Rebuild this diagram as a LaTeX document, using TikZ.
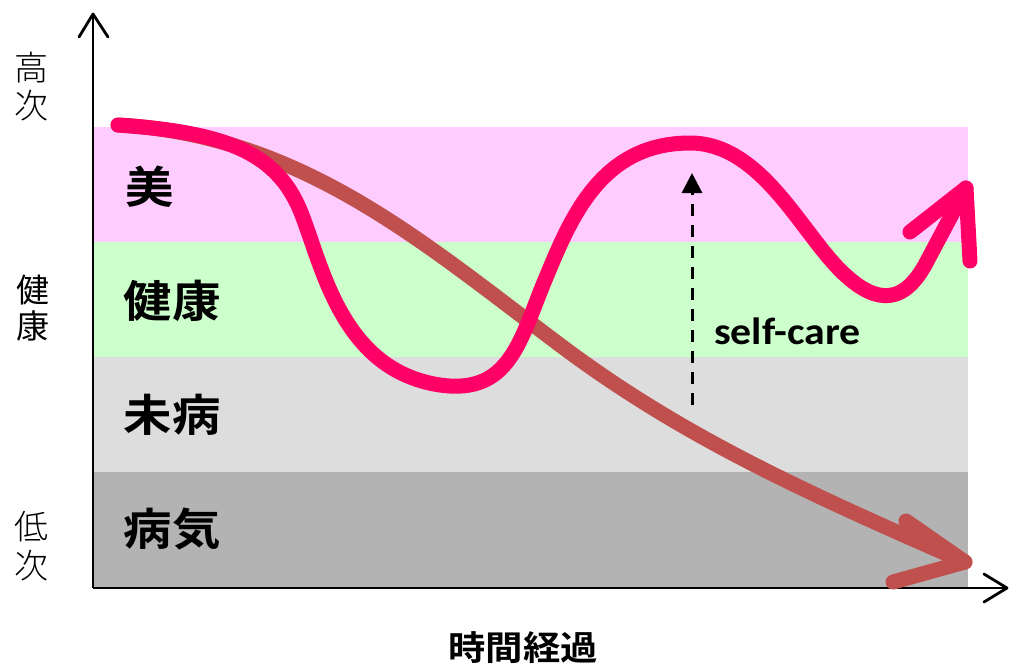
\documentclass[tikz,border=0pt]{standalone}
\usepackage{fontspec}
\newfontfamily\jp{Noto Sans CJK JP}[BoldFont={Noto Sans CJK JP Bold}]
\newfontfamily\jpl{Noto Sans CJK JP Light}
\setsansfont{Carlito}
\usetikzlibrary{arrows.meta}
\definecolor{bandpink}{HTML}{FFCCFF}
\definecolor{bandgreen}{HTML}{CCFFCC}
\definecolor{bandlight}{HTML}{DDDDDD}
\definecolor{banddark}{HTML}{B3B3B3}
\definecolor{curvepink}{HTML}{FF0066}
\definecolor{curvebrown}{HTML}{C0504D}
\tikzset{
  axis/.style={line width=2.5pt, black},
  chev/.style={line width=2.8pt, black, line cap=round, line join=round},
  bandlabel/.style={font=\jp\bfseries\fontsize{44}{44}\selectfont, inner sep=0pt, xscale=1.1},
  sidelabel/.style={font=\jpl\fontsize{34}{34}\selectfont, inner sep=0pt},
  sidebold/.style={font=\jp\fontsize{33}{33}\selectfont, inner sep=0pt},
  curve/.style={line width=15pt, line cap=round, line join=round},
}
\begin{document}
\begin{tikzpicture}[x=1pt,y=-1pt]
\useasboundingbox (0,0) rectangle (1010,665);
% bands
\fill[bandpink] (93,127) rectangle (968,242);
\fill[bandgreen] (93,242) rectangle (968,357);
\fill[bandlight] (93,357) rectangle (968,472);
\fill[banddark] (93,472) rectangle (968,588);
% axes
\coordinate (O) at (93,588);
\coordinate (ytip) at (93,14);
\coordinate (xtip) at (1007,588);
\draw[axis] (O) -- (ytip);
\draw[axis] (O) -- (xtip);
\draw[chev] (79,37) -- (ytip) -- (108,37);
\draw[chev] (984,574) -- (xtip) -- (984,602);
% side labels
\node[sidelabel] (hi1) at (32,68) {高};
\node[sidelabel] (hi2) at (32,106) {次};
\node[sidebold] (he1) at (33,290) {健};
\node[sidebold] (he2) at (33,326) {康};
\node[sidelabel] (lo1) at (32,527) {低};
\node[sidelabel] (lo2) at (32,566) {次};
% band labels
\node[bandlabel] (bi) at (150,187) {美};
\node[bandlabel] (kenko) at (172,301) {健康};
\node[bandlabel] (mibyo) at (172,415) {未病};
\node[bandlabel] (byoki) at (172,529) {病気};
\node[font=\jp\bfseries\fontsize{34}{34}\selectfont, inner sep=0pt, xscale=1.1] (time) at (523,648) {時間経過};
% brown curve
\coordinate (bstart) at (118,125);
\coordinate (btip) at (965,562);
\draw[curve, curvebrown] (bstart) .. controls (300,135) and (420,240) .. (560,345) .. controls (680,435) and (800,490) .. (btip);
\draw[curve, curvebrown] (906,521) -- (btip) -- (893,582);
% pink curve
\coordinate (pstart) at (118,125);
\coordinate (ptip) at (966,188);
\draw[curve, curvepink] (pstart) .. controls (220,132) and (275,150) .. (300,210)
  .. controls (322,263) and (340,370) .. (440,385)
  .. controls (510,395) and (520,340) .. (545,280)
  .. controls (570,220) and (600,143) .. (690,143)
  .. controls (760,143) and (800,230) .. (840,270)
  .. controls (870,300) and (900,310) .. (925,265) -- (ptip);
\draw[curve, curvepink] (910,232) -- (ptip) -- (970,261);
% self-care
\coordinate (sc0) at (692,405);
\coordinate (sc1) at (692,173);
\draw[line width=3pt, dash pattern=on 12pt off 9pt, -{Triangle[length=20pt,width=20pt]}] (sc0) -- (sc1);
\node[font=\sffamily\bfseries\fontsize{38}{38}\selectfont, inner sep=0pt, anchor=base west, xscale=1.1] (sc) at (714,344) {self-care};
\end{tikzpicture}
\end{document}
